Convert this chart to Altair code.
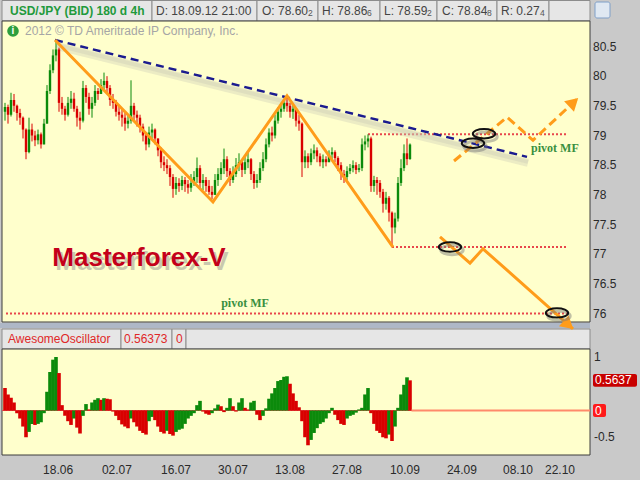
import math

import altair as alt
import numpy as np
import pandas as pd

# ---------------- USD/JPY 4h bars (x = bar number on the time axis) ----------------
first_open = 79.40
close = [
    79.48, 79.35, 79.60, 79.50, 79.38, 79.30, 79.10, 78.72, 79.10, 79.00,
    78.92, 79.02, 78.85, 79.20, 79.75, 80.10, 80.35, 80.45, 79.55, 79.45,
    79.35, 79.55, 79.62, 79.45, 79.30, 79.25, 79.80, 79.65, 79.45, 79.55,
    79.75, 79.70, 79.85, 79.92, 79.80, 79.60, 79.55, 79.40, 79.35, 79.30,
    79.20, 79.25, 79.50, 79.35, 79.30, 79.15, 79.00, 78.85, 79.05, 79.10,
    78.95, 78.75, 78.55, 78.50, 78.45, 78.30, 78.10, 78.20, 78.15, 78.25,
    78.18, 78.12, 78.20, 78.30, 78.45, 78.20, 78.25, 78.15, 78.05, 78.00,
    78.25, 78.35, 78.45, 78.60, 78.40, 78.25, 78.35, 78.50, 78.55, 78.42,
    78.55, 78.60, 78.35, 78.20, 78.25, 78.45, 78.60, 78.85, 79.05, 79.00,
    79.25, 79.40, 79.45, 79.55, 79.50, 79.40, 79.45, 79.25, 79.20, 78.55,
    78.65, 78.55, 78.70, 78.75, 78.65, 78.55, 78.60, 78.55, 78.68, 78.72,
    78.62, 78.50, 78.35, 78.30, 78.40, 78.45, 78.50, 78.42, 78.45, 78.85,
    78.90, 78.95, 78.15, 78.25, 78.20, 78.05, 77.85, 77.95, 77.70, 77.45,
    77.60, 78.20, 78.45, 78.70, 78.602, 78.848,
]
high = [
    79.55, 79.52, 79.72, 79.70, 79.52, 79.45, 79.32, 79.12, 79.30, 79.20,
    79.08, 79.10, 79.05, 79.28, 79.85, 80.20, 80.45, 80.61, 80.48, 79.65,
    79.50, 79.65, 79.75, 79.72, 79.50, 79.40, 79.92, 79.85, 79.72, 79.65,
    79.85, 79.80, 79.95, 80.06, 80.00, 79.85, 79.70, 79.60, 79.50, 79.45,
    79.40, 79.35, 79.93, 79.55, 79.42, 79.35, 79.20, 79.05, 79.15, 79.20,
    79.12, 78.95, 78.80, 78.65, 78.60, 78.50, 78.35, 78.30, 78.28, 78.32,
    78.30, 78.25, 78.35, 78.40, 78.63, 78.50, 78.35, 78.30, 78.25, 78.15,
    78.35, 78.45, 78.55, 78.78, 78.65, 78.45, 78.48, 78.62, 78.70, 78.60,
    78.65, 78.72, 78.62, 78.40, 78.35, 78.55, 78.72, 78.95, 79.12, 79.15,
    79.35, 79.48, 79.55, 79.62, 79.67, 79.55, 79.52, 79.45, 79.35, 79.22,
    78.75, 78.70, 78.78, 78.85, 78.80, 78.70, 78.68, 78.65, 78.75, 78.80,
    78.75, 78.65, 78.55, 78.42, 78.48, 78.52, 78.58, 78.55, 78.52, 78.95,
    79.00, 79.02, 78.98, 78.32, 78.30, 78.25, 78.10, 78.05, 77.98, 77.72,
    77.70, 78.30, 78.60, 78.85, 78.95, 78.866,
]
low = [
    79.25, 79.20, 79.32, 79.40, 79.25, 79.18, 78.95, 78.60, 78.70, 78.90,
    78.82, 78.85, 78.78, 78.85, 79.20, 79.70, 80.05, 80.25, 79.40, 79.35,
    79.25, 79.32, 79.45, 79.40, 79.15, 79.10, 79.22, 79.55, 79.35, 79.30,
    79.50, 79.60, 79.70, 79.75, 79.70, 79.50, 79.45, 79.32, 79.25, 79.15,
    79.08, 79.12, 79.20, 79.25, 79.15, 79.05, 78.90, 78.75, 78.80, 78.95,
    78.85, 78.65, 78.45, 78.40, 78.35, 78.15, 77.95, 78.00, 78.05, 78.08,
    78.05, 78.02, 78.05, 78.15, 78.20, 78.10, 78.08, 78.05, 78.00, 77.93,
    78.00, 78.15, 78.25, 78.35, 78.30, 78.15, 78.20, 78.30, 78.40, 78.30,
    78.35, 78.45, 78.25, 78.10, 78.12, 78.20, 78.40, 78.55, 78.80, 78.90,
    78.95, 79.20, 79.30, 79.40, 79.40, 79.30, 79.28, 79.15, 79.08, 78.30,
    78.45, 78.45, 78.50, 78.60, 78.55, 78.48, 78.45, 78.48, 78.55, 78.60,
    78.55, 78.40, 78.25, 78.20, 78.25, 78.35, 78.38, 78.35, 78.38, 78.40,
    78.75, 78.80, 78.05, 78.05, 78.00, 77.95, 77.70, 77.75, 77.55, 77.12,
    77.35, 77.55, 78.15, 78.40, 78.50, 78.592,
]
# Awesome Oscillator, one value per bar
ao = [
    0.42, 0.30, 0.24, 0.15, -0.05, -0.15, -0.30, -0.50, -0.40, -0.25,
    -0.27, -0.25, -0.22, -0.05, 0.35, 0.72, 0.95, 1.00, 0.70, 0.10,
    -0.10, -0.20, -0.27, -0.15, -0.32, -0.43, -0.10, 0.12, 0.02, 0.15,
    0.20, 0.23, 0.20, 0.23, 0.22, 0.21, -0.02, -0.10, -0.18, -0.26,
    -0.30, -0.33, -0.15, -0.22, -0.30, -0.38, -0.42, -0.45, -0.20, -0.12,
    -0.18, -0.30, -0.40, -0.43, -0.38, -0.44, -0.47, -0.40, -0.36, -0.34,
    -0.25, -0.15, -0.10, -0.05, 0.10, 0.18, -0.02, -0.06, -0.08, -0.05,
    0.04, 0.11, 0.08, -0.03, 0.05, 0.23, 0.08, -0.02, 0.15, 0.23,
    0.05, 0.02, 0.15, 0.18, -0.08, -0.18, -0.10, 0.04, 0.22, 0.32,
    0.42, 0.55, 0.57, 0.63, 0.64, 0.50, 0.32, 0.18, 0.06, -0.20,
    -0.50, -0.65, -0.55, -0.42, -0.33, -0.25, -0.22, -0.15, -0.05, 0.05,
    -0.08, -0.18, -0.25, -0.27, -0.15, -0.10, -0.08, -0.04, 0.02, 0.05,
    0.30, 0.42, -0.05, -0.25, -0.38, -0.42, -0.50, -0.52, -0.45, -0.57,
    -0.30, 0.05, 0.30, 0.48, 0.62, 0.56373,
]

# time axis labels (bar positions of the date marks)
date_pos = [17.7, 37.3, 57.0, 76.0, 95.0, 114.0, 133.3, 152.3, 171.0, 185.0]
date_text = ["18.06", "02.07", "16.07", "30.07", "13.08", "27.08", "10.09", "24.09", "08.10", "22.10"]
price_ticks = [76.0, 76.5, 77.0, 77.5, 78.0, 78.5, 79.0, 79.5, 80.0, 80.5]
osc_ticks = [1.0, -0.5]
last_stamp = "18.09.12 21:00"

# analysis drawn over the price panel
wave_x = [16.67, 69.33, 94.0, 129.33]
wave_y = [80.61, 77.88, 79.67, 77.12]
trend_x = [16.67, 174.0]
trend_y = [80.61, 78.64]
bull_x = [149.67, 167.33, 176.0, 191.0]
bull_y = [78.57, 79.31, 78.92, 79.63]
bear_x = [145.0, 155.0, 159.33, 189.33]
bear_y = [77.29, 76.85, 77.09, 75.74]
level_start = [121.0, 129.0, 0.33]
level_end = [187.67, 187.33, 187.67]
level_price = [79.02, 77.12, 76.0]
ring_x = [159.67, 156.0, 148.33, 184.0]
ring_y = [79.03, 78.87, 77.12, 76.01]
pivot_x = [183.3, 80.0]
pivot_y = [78.79, 76.18]
brand_x, brand_y = 44.67, 76.94

# ---------------- styling ----------------
SANS = "Liberation Sans"
SERIF = "Liberation Serif"
YELLOW = "#ffffcc"
PANEL_EDGE = "#3c3c3c"
ORANGE = "#ff9c1a"
GREEN = "#0b8a0b"
RED = "#d90000"

X_DOM, X_RNG = [-1, 195], [2, 590]
P_DOM, P_RNG = [76, 80.5], [313.5, 46.5]
O_DOM, O_RNG = [-0.5, 1], [437.25, 357]
XS = alt.Scale(domain=X_DOM, range=X_RNG, nice=False, zero=False)
PS = alt.Scale(domain=P_DOM, range=P_RNG, nice=False, zero=False)
OS = alt.Scale(domain=O_DOM, range=O_RNG, nice=False, zero=False)
PX_PER_BAR = (X_RNG[1] - X_RNG[0]) / (X_DOM[1] - X_DOM[0])
PX_PER_YEN = (P_RNG[0] - P_RNG[1]) / (P_DOM[1] - P_DOM[0])


def X(f):
    return alt.X(f, type="quantitative", scale=XS, axis=None)


def PY(f):
    return alt.Y(f, type="quantitative", scale=PS, axis=None)


def OY(f):
    return alt.Y(f, type="quantitative", scale=OS, axis=None)


DIR = alt.Color("dir:N", scale=alt.Scale(domain=["up", "down"], range=[GREEN, RED]), legend=None)
one = pd.DataFrame({"k": [0]})


def box(x0, x1, y0, y1, fill, stroke=None, sw=1.0, **kw):
    props = dict(fill=fill, **kw)
    if stroke:
        props.update(stroke=stroke, strokeWidth=sw)
    return alt.Chart(one).mark_rect(**props).encode(
        x=alt.value(x0), x2=alt.value(x1), y=alt.value(y0), y2=alt.value(y1))


def label(x, y, txt, size=12, color="#333333", align="left", weight="normal", font=SANS, **kw):
    return alt.Chart(one).mark_text(
        text=txt, fontSize=size, color=color, align=align, baseline="middle",
        fontWeight=weight, font=font, **kw).encode(x=alt.value(x), y=alt.value(y))


def path(xs, ys):
    return pd.DataFrame({"bar": xs, "price": ys, "k": range(len(xs))})


layers = []

# ---------------- frame: header, panels, separator ----------------
head_edges = [2, 152, 257, 318, 380, 437, 497, 549, 590]
for a, b in zip(head_edges[:-1], head_edges[1:]):
    layers.append(box(a, b, 0.5, 21, "#e6e6e6", "#8c8c8c"))
layers.append(box(595, 610, 2, 18, "#dfe8f2", "#7f9fc8", cornerRadius=2))
layers.append(box(2, 590, 21, 322, YELLOW, PANEL_EDGE))
layers.append(box(0, 590, 323, 328, "#aeb7c6"))
osc_edges = [2, 121, 172, 186, 590]
for a, b in zip(osc_edges[:-1], osc_edges[1:]):
    layers.append(box(a, b, 329, 349, "#e6e6e6", "#8c8c8c"))
layers.append(box(2, 590, 349, 455, YELLOW, PANEL_EDGE))

# header texts, taken from the last bar
n = len(close)
opens = [first_open] + close[:-1]
o_last, h_last, l_last, c_last = opens[-1], high[-1], low[-1], close[-1]
r_last = h_last - l_last
layers.append(label(10, 11, "USD/JPY (BID) 180 d 4h", color="#1f9a3c", weight="bold"))
layers.append(label(156, 11, f"D: {last_stamp}", color="#444444"))
for x_big, x_small, tag, val in [
    (262, 308, "O", o_last), (322, 367, "H", h_last), (384, 427, "L", l_last),
    (442, 487, "C", c_last), (501, 540, "R", r_last),
]:
    s = f"{val:.3f}"
    layers.append(label(x_big, 11, f"{tag}: {s[:-1]}", color="#444444"))
    layers.append(label(x_small, 12.5, s[-1], size=8.5, color="#555555"))

# watermark line
layers.append(alt.Chart(one).mark_circle(size=135, color="#2e9e3e", opacity=1).encode(
    x=alt.value(13), y=alt.value(31)))
layers.append(label(13, 31, "i", size=10, color="white", align="center", weight="bold"))
layers.append(label(25, 31, "2012 \u00a9 TD Ameritrade IP Company, Inc.", color="#a6a6a6"))

# ---------------- price panel ----------------
levels = pd.DataFrame({"b0": level_start, "b1": level_end, "price": level_price})
layers.append(alt.Chart(levels).mark_rule(color="#e8464b", strokeWidth=2, strokeDash=[2, 2]).encode(
    x=X("b0"), x2="b1", y=PY("price")))

trend = path(trend_x, trend_y)
layers.append(alt.Chart(trend).mark_line(color="#c9c9b4", strokeWidth=8, opacity=0.35, yOffset=6, xOffset=1).encode(
    x=X("bar"), y=PY("price"), order="k:Q"))
layers.append(alt.Chart(trend).mark_line(color="#c9c9b4", strokeWidth=4, opacity=0.35, yOffset=5, xOffset=1).encode(
    x=X("bar"), y=PY("price"), order="k:Q"))
layers.append(alt.Chart(trend).mark_line(color="#1b1b8f", strokeWidth=2.5, strokeDash=[8, 5]).encode(
    x=X("bar"), y=PY("price"), order="k:Q"))

candles = pd.DataFrame({"bar": np.arange(n), "open": opens, "close": close, "high": high, "low": low})
candles["dir"] = np.where(candles["close"] >= candles["open"], "up", "down")
layers.append(alt.Chart(candles).mark_rule(strokeWidth=1).encode(
    x=X("bar"), y=PY("low"), y2="high", color=DIR))
layers.append(alt.Chart(candles).transform_calculate(
    b0="datum.bar - 0.4", b1="datum.bar + 0.4").mark_rect().encode(
    x=X("b0"), x2="b1", y=PY("open"), y2="close", color=DIR))

layers.append(alt.Chart(path(wave_x, wave_y)).mark_line(color=ORANGE, strokeWidth=3).encode(
    x=X("bar"), y=PY("price"), order="k:Q"))
layers.append(alt.Chart(path(bull_x, bull_y)).mark_line(color=ORANGE, strokeWidth=3, strokeDash=[9, 5]).encode(
    x=X("bar"), y=PY("price"), order="k:Q"))
layers.append(alt.Chart(path(bear_x, bear_y)).mark_line(color=ORANGE, strokeWidth=3).encode(
    x=X("bar"), y=PY("price"), order="k:Q"))

# arrow heads at the end of both projected paths
for xs, ys in [(bull_x, bull_y), (bear_x, bear_y)]:
    dx = (xs[-1] - xs[-2]) * PX_PER_BAR
    dy = (ys[-1] - ys[-2]) * PX_PER_YEN
    ang = math.atan2(dx, dy)
    back = 6.0
    head = pd.DataFrame({
        "bar": [xs[-1] - back * math.sin(ang) / PX_PER_BAR],
        "price": [ys[-1] - back * math.cos(ang) / PX_PER_YEN],
    })
    layers.append(alt.Chart(head).mark_point(
        shape="triangle-up", size=210, filled=True, color=ORANGE, opacity=1,
        angle=(math.degrees(ang) + 360) % 360).encode(x=X("bar"), y=PY("price")))

ELLIPSE = "M-1,0A1,0.42,0,1,0,1,0A1,0.42,0,1,0,-1,0Z"
rings = pd.DataFrame({"bar": ring_x, "price": ring_y})
layers.append(alt.Chart(rings).mark_point(
    shape=ELLIPSE, size=500, filled=False, color="#777777", strokeWidth=3, opacity=0.45,
    xOffset=2, yOffset=3).encode(x=X("bar"), y=PY("price")))
layers.append(alt.Chart(rings).mark_point(
    shape=ELLIPSE, size=500, filled=False, color="#111111", strokeWidth=2, opacity=1).encode(
    x=X("bar"), y=PY("price")))

pivots = pd.DataFrame({"bar": pivot_x, "price": pivot_y, "t": ["pivot MF"] * len(pivot_x)})
layers.append(alt.Chart(pivots).mark_text(
    font=SERIF, fontWeight="bold", fontSize=12, color="#3a9040").encode(
    x=X("bar"), y=PY("price"), text="t:N"))

# brand caption with a soft drop shadow
brand = pd.DataFrame({"bar": [brand_x], "price": [brand_y], "t": ["Masterforex-V"]})
layers.append(alt.Chart(brand).mark_text(
    font=SANS, fontWeight="bold", fontSize=26, color="#8a8a8a", opacity=0.45, dx=3, dy=4).encode(
    x=X("bar"), y=PY("price"), text="t:N"))
layers.append(alt.Chart(brand).mark_text(
    font=SANS, fontWeight="bold", fontSize=26, color="#c4001a").encode(
    x=X("bar"), y=PY("price"), text="t:N"))

# price scale labels
plab = pd.DataFrame({"price": price_ticks, "t": [f"{v:g}" for v in price_ticks]})
layers.append(alt.Chart(plab).mark_text(
    font=SANS, fontSize=12, color="#2a2a2a", align="left", baseline="middle").encode(
    x=alt.value(593), y=PY("price"), text="t:N"))

# ---------------- Awesome Oscillator panel ----------------
osc = pd.DataFrame({"bar": np.arange(n), "ao": ao})
osc["dir"] = np.where(osc["ao"].diff() > 0, "up", "down")
osc["zero"] = 0.0
zero_df = pd.DataFrame({"v": [0.0], "b0": [n - 0.5]})
layers.append(alt.Chart(zero_df).mark_rule(color="#e05050", strokeWidth=1).encode(
    x=alt.value(2), x2=alt.value(590), y=OY("v")))
layers.append(alt.Chart(osc).transform_calculate(
    b0="datum.bar - 0.6", b1="datum.bar + 0.6").mark_rect().encode(
    x=X("b0"), x2="b1", y=OY("ao"), y2="zero", color=DIR))
layers.append(alt.Chart(zero_df).mark_rule(color="#ff8a6a", strokeWidth=2).encode(
    x=X("b0"), x2=alt.value(590), y=OY("v")))

layers.append(label(8, 339, "AwesomeOscillator", color="#e02828"))
layers.append(label(124, 339, f"{ao[-1]:.5f}", color="#e02828"))
layers.append(label(176, 339, "0", color="#e02828"))

olab = pd.DataFrame({"v": osc_ticks, "t": [f"{v:g}" for v in osc_ticks]})
layers.append(alt.Chart(olab).mark_text(
    font=SANS, fontSize=12, color="#2a2a2a", align="left", baseline="middle").encode(
    x=alt.value(594), y=OY("v"), text="t:N"))

for val, txt, fill, x1 in [(ao[-1], f"{ao[-1]:.4f}", "#c80000", 637), (0.0, "0", "#ff1a1a", 606)]:
    tag = pd.DataFrame({"v": [val], "t": [txt]})
    layers.append(alt.Chart(tag).transform_calculate(
        lo="datum.v - 0.12", hi="datum.v + 0.12").mark_rect(fill=fill, cornerRadius=2).encode(
        x=alt.value(593), x2=alt.value(x1), y=OY("lo"), y2="hi"))
    layers.append(alt.Chart(tag).mark_text(
        font=SANS, fontSize=12, color="white", align="left", baseline="middle").encode(
        x=alt.value(595), y=OY("v"), text="t:N"))

# time axis labels
dates = pd.DataFrame({"bar": date_pos, "t": date_text})
layers.append(alt.Chart(dates).mark_text(
    font=SANS, fontSize=12, color="#2a2a2a", align="center", baseline="middle").encode(
    x=X("bar"), y=alt.value(470), text="t:N"))

chart = (
    alt.layer(*layers)
    .resolve_scale(y="independent")
    .properties(width=640, height=480, padding=0,
                autosize=alt.AutoSizeParams(type="none"), background="#c9c9c9")
    .configure_view(stroke=None)
)

chart.save("out.html", embed_options={"renderer": "svg", "actions": False})
